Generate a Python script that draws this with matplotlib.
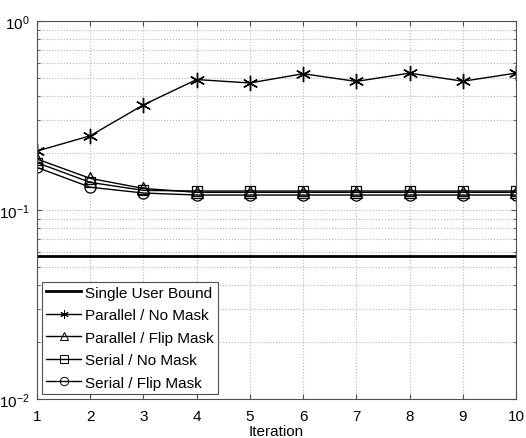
import matplotlib
matplotlib.use("Agg")
import matplotlib.pyplot as plt
import numpy as np

plt.rcParams['font.family'] = ['Liberation Sans', 'DejaVu Sans']

iterations = [1, 2, 3, 4, 5, 6, 7, 8, 9, 10]
single_user_bound = 0.057
parallel_no_mask = [0.205, 0.247, 0.36, 0.49, 0.47, 0.526, 0.479, 0.53, 0.48, 0.53]
parallel_flip_mask = [0.186, 0.147, 0.130, 0.124, 0.124, 0.124, 0.124, 0.124, 0.124, 0.124]
serial_no_mask = [0.178, 0.140, 0.127, 0.126, 0.126, 0.126, 0.126, 0.126, 0.126, 0.126]
serial_flip_mask = [0.168, 0.132, 0.123, 0.120, 0.120, 0.120, 0.120, 0.120, 0.120, 0.120]

fig = plt.figure(figsize=(5.26, 4.39), dpi=100)
ax = fig.add_axes([37/526, 1 - 400/439, (516-37)/526, (400-22)/439])

ax.plot(iterations, [single_user_bound]*len(iterations), color='black', lw=2, label='Single User Bound')
ax.plot(iterations, parallel_no_mask, color='black', lw=1, marker=(6, 2, 0), ms=11, mew=1, label='Parallel / No Mask')
ax.plot(iterations, parallel_flip_mask, color='black', lw=1, marker='^', ms=8, mfc='none', mew=0.9, label='Parallel / Flip Mask')
ax.plot(iterations, serial_no_mask, color='black', lw=1, marker='s', ms=7, mfc='none', mew=0.9, label='Serial / No Mask')
ax.plot(iterations, serial_flip_mask, color='black', lw=1, marker='o', ms=8, mfc='none', mew=0.9, label='Serial / Flip Mask')

ax.set_yscale('log')
ax.set_ylim(1e-2, 1e0)
ax.set_xlim(1, 10)
ax.set_xticks(iterations)
ax.grid(True, which='major', axis='both', color='#b8b8b8', ls=':', lw=0.8)
ax.grid(True, which='minor', axis='y', color='#b8b8b8', ls=':', lw=0.8)
ax.tick_params(which='both', direction='in', top=True, right=True, labelsize=11, colors='#505050', labelcolor='black')
ax.tick_params(axis='x', pad=7)
ax.tick_params(axis='y', pad=5)
for s in ax.spines.values():
    s.set_color('#505050')
ax.set_xlabel('Iteration', fontsize=11, labelpad=1)

leg = ax.legend(loc='lower left', fontsize=11, fancybox=False, framealpha=1,
                edgecolor='#505050', borderpad=0.25, labelspacing=0.56, handlelength=2.3,
                handletextpad=0.25, borderaxespad=0.35)
leg.get_frame().set_linewidth(0.8)
for h in leg.legend_handles:
    h.set_markersize(6)
    h.set_markeredgewidth(0.7)

fig.savefig('out.png', dpi=100)
